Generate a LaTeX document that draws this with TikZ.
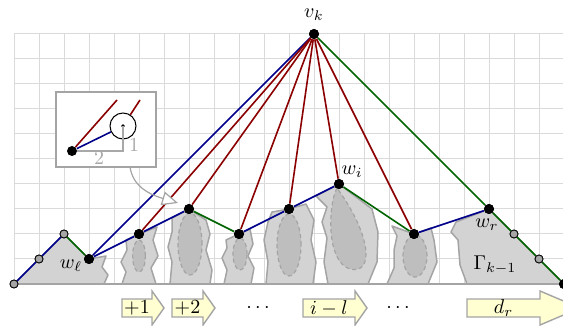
\documentclass[tikz,border=0pt]{standalone}
\usetikzlibrary{arrows.meta}
\definecolor{gridc}{HTML}{DADADA}
\definecolor{blobfill}{HTML}{D3D3D3}
\definecolor{blobline}{HTML}{A4A4A4}
\definecolor{innerfill}{HTML}{BEBEBE}
\definecolor{eblue}{HTML}{00008B}
\definecolor{ered}{HTML}{8B0000}
\definecolor{egreen}{HTML}{006400}
\definecolor{arrfill}{HTML}{FFFFD2}
\definecolor{txtgray}{HTML}{A8A8A8}
\newcommand\blockarrow[5]{%
  \draw[arrowbox] (#2,299) -- (#3,299) -- (#3,291) -- (#4,308) -- (#3,325) -- (#3,317) -- (#2,317) -- cycle;
  \node[inner sep=0pt] (#1) at ({(#2+#3)/2},308) {#5};}
\begin{document}
\begin{tikzpicture}[x=0.5pt,y=-0.5pt,
  bdot/.style={circle,fill=black,inner sep=0pt,minimum size=5pt},
  gdot/.style={circle,fill=black!35,draw=black,line width=0.4pt,inner sep=0pt,minimum size=4pt},
  blob/.style={fill=blobfill,draw=blobline,line width=0.75pt,line join=round},
  innerblob/.style={fill=innerfill,draw=blobline,dash pattern=on 2pt off 1.5pt,line width=0.6pt},
  eb/.style={eblue,line width=0.8pt},
  er/.style={ered,line width=0.8pt},
  eg/.style={egreen,line width=0.8pt},
  arrowbox/.style={fill=arrfill,draw=blobline,line width=0.7pt,line join=miter},
  lbl/.style={inner sep=0pt}]
\useasboundingbox (0,0) rectangle (563,326);
\clip (0,0) rectangle (563,326);
% grid
\foreach \k in {0,...,22} \draw[gridc,line width=0.5pt] ({14+25*\k},34) -- ({14+25*\k},284);
\foreach \k in {0,...,10} \draw[gridc,line width=0.5pt] (14,{34+25*\k}) -- (563,{34+25*\k});
% blobs
\draw[blob] (14,284) -- (64,234) -- (89,259) -- (106,256) -- (102,267) -- (108,275) -- (104,284) -- cycle;
\draw[blob] (139,234) -- (157,227) -- (153,240) -- (158,256) -- (151,268) -- (156,284) -- (122,284) -- (126,272) -- (121,262) -- (127,250) -- (126,240) -- cycle;
\draw[blob] (189,209) -- (206,220) -- (210,234) -- (206,250) -- (212,270) -- (210,284) -- (170,284) -- (172,262) -- (168,247) -- (172,232) -- (172,218) -- cycle;
\draw[blob] (239,234) -- (250,229) -- (253,244) -- (248,256) -- (254,268) -- (251,284) -- (224,284) -- (227,270) -- (222,258) -- (227,248) -- (226,240) -- cycle;
\draw[blob] (289,209) -- (306,204) -- (314,220) -- (311,240) -- (316,262) -- (313,284) -- (266,284) -- (268,262) -- (264,240) -- (268,222) -- (272,212) -- cycle;
\draw[blob] (339,184) -- (372,209) -- (378,232) -- (377,262) -- (368,284) -- (328,284) -- (324,262) -- (327,238) -- (322,222) -- (327,207) -- (316,196) -- cycle;
\draw[blob] (414,234) -- (431,228) -- (434,240) -- (437,262) -- (428,284) -- (387,284) -- (394,268) -- (394,250) -- (397,236) -- (392,226) -- cycle;
\draw[blob] (489,209) -- (564,284) -- (467,284) -- (460,265) -- (458,240) -- (451,232) -- (456,222) -- cycle;
% inner shapes
\draw[innerblob] (139,256) ellipse [x radius=3.2pt, y radius=8pt];
\draw[innerblob] (190,244) ellipse [x radius=6pt, y radius=15.5pt];
\draw[innerblob] (240,254) ellipse [x radius=3.5pt, y radius=8pt];
\draw[innerblob] (289,245) ellipse [x radius=6pt, y radius=15.5pt];
\draw[innerblob] (337,188) .. controls (328,205) and (326,262) .. (350,269) .. controls (374,275) and (372,236) .. (337,188) -- cycle;
\draw[innerblob] (415,256) ellipse [x radius=6pt, y radius=10.5pt];
% baseline
\draw[blobline,line width=0.75pt] (14,284) -- (563,284);
% vertices
\node[bdot] (vk) at (314,34) {};
\node[gdot] (lc) at (14,284) {};
\node[gdot] (l1) at (39,259) {};
\node[gdot] (l2) at (64,234) {};
\node[bdot] (wl) at (89,259) {};
\node[bdot] (a1) at (139,234) {};
\node[bdot] (a2) at (189,209) {};
\node[bdot] (a3) at (239,234) {};
\node[bdot] (a4) at (289,209) {};
\node[bdot] (wi) at (339,184) {};
\node[bdot] (a6) at (414,234) {};
\node[bdot] (wr) at (489,209) {};
\node[gdot] (r1) at (514,234) {};
\node[gdot] (r2) at (539,259) {};
\node[bdot] (rc) at (564,284) {};
% edges
\draw[eb] (lc) -- (l1) -- (l2);
\draw[eg] (l2) -- (wl);
\draw[eb] (wl) -- (a1) -- (a2);
\draw[eg] (a2) -- (a3);
\draw[eb] (a3) -- (a4) -- (wi);
\draw[eg] (wi) -- (a6);
\draw[eb] (a6) -- (wr);
\draw[eb] (vk) -- (wl);
\foreach \t in {a1,a2,a3,a4,wi,a6} \draw[er] (vk) -- (\t);
\draw[eg] (vk) -- (wr) -- (r1) -- (r2) -- (rc);
% redraw dots on top
\foreach \n/\p in {vk/{(314,34)},wl/{(89,259)},a1/{(139,234)},a2/{(189,209)},a3/{(239,234)},a4/{(289,209)},wi/{(339,184)},a6/{(414,234)},wr/{(489,209)},rc/{(564,284)}}
  \fill \p circle (2.5pt);
\foreach \p in {(14,284),(39,259),(64,234),(514,234),(539,259)}
  \filldraw[fill=black!35,draw=black,line width=0.4pt] \p circle (2pt);
% labels
\node[lbl] (lvk) at (314,15) {$v_k$};
\node[lbl] (lwi) at (352,172) {$w_i$};
\node[lbl] (lwl) at (71,266) {$w_\ell$};
\node[lbl] (lwr) at (487,225) {$w_r$};
\node[lbl] (lg) at (495,265) {$\Gamma_{k-1}$};
% inset
\draw[blobline,fill=white,line width=0.6pt] (56,92) rectangle (156,167);
\coordinate (ibox) at (130,167);
\node[circle,fill=black,inner sep=0pt,minimum size=5pt] (idot) at (72,151) {};
\node[circle,draw=black,line width=0.5pt,inner sep=0pt,minimum size=13pt] (icirc) at (123,126) {};
\fill (123,126) circle (0.9pt);
\coordinate (ired1) at (117,100);
\coordinate (ired2) at (140,100);
\coordinate (icorner) at (123,151);
\draw[txtgray,line width=0.6pt] (icirc.center) -- (icorner) -- (idot);
\draw[er] (idot) -- (ired1);
\draw[eb] (idot) -- (icirc);
\draw[er] (icirc) -- (ired2);
\node[lbl,txtgray] (i1) at (134,145) {1};
\node[lbl,txtgray] (i2) at (99,158) {2};
% curved arrow
\coordinate (atip) at (178,203);
\draw[blobline,line width=0.6pt,-{Triangle[length=8pt,width=7pt,fill=white]}] (ibox) .. controls (133,186) and (148,194) .. (atip);
% bottom arrows
\blockarrow{b1}{122}{152}{164}{$+1$}
\blockarrow{b2}{172}{203}{215}{$+2$}
\blockarrow{b3}{303}{355}{367}{$i-l$}
\blockarrow{b4}{467}{540}{580}{$d_r$}
\node[lbl] (dots1) at (258,308) {$\cdots$};
\node[lbl] (dots2) at (398,308) {$\cdots$};
\end{tikzpicture}
\end{document}
